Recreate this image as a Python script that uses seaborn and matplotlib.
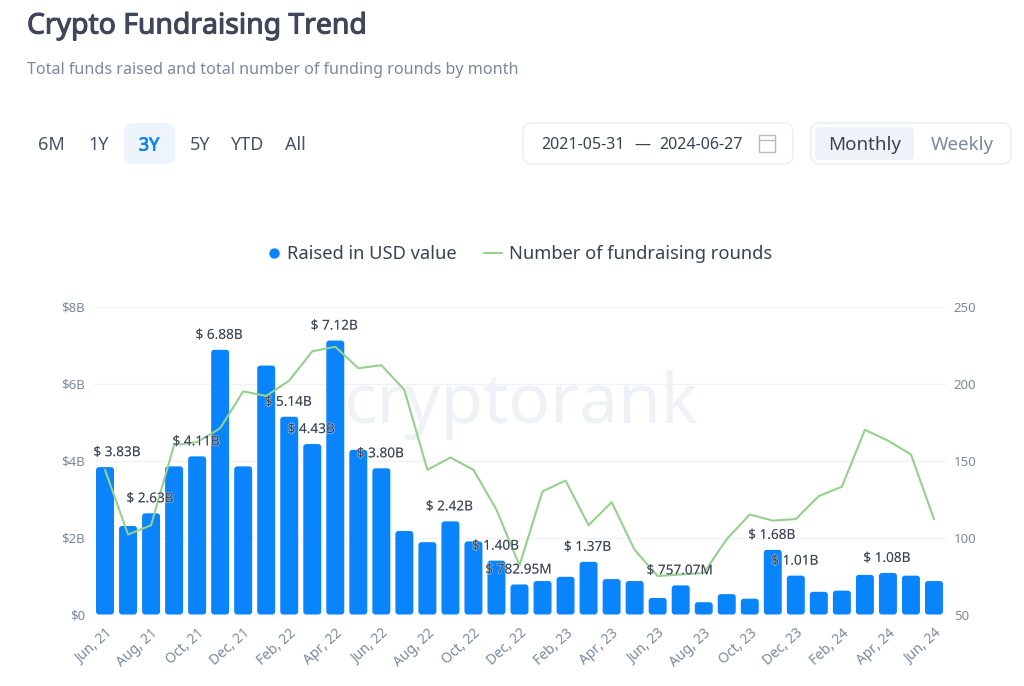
import matplotlib
matplotlib.use('Agg')
import matplotlib.pyplot as plt
import matplotlib.patheffects as pe
from matplotlib.patches import FancyBboxPatch, Rectangle
import pandas as pd
import seaborn as sns

months = ['Jun, 21', 'Jul, 21', 'Aug, 21', 'Sep, 21', 'Oct, 21', 'Nov, 21', 'Dec, 21',
          'Jan, 22', 'Feb, 22', 'Mar, 22', 'Apr, 22', 'May, 22', 'Jun, 22', 'Jul, 22',
          'Aug, 22', 'Sep, 22', 'Oct, 22', 'Nov, 22', 'Dec, 22', 'Jan, 23', 'Feb, 23',
          'Mar, 23', 'Apr, 23', 'May, 23', 'Jun, 23', 'Jul, 23', 'Aug, 23', 'Sep, 23',
          'Oct, 23', 'Nov, 23', 'Dec, 23', 'Jan, 24', 'Feb, 24', 'Mar, 24', 'Apr, 24',
          'May, 24', 'Jun, 24']
raised = [3.83, 2.30, 2.63, 3.85, 4.11, 6.88, 3.85, 6.47, 5.14, 4.43, 7.12, 4.28, 3.80,
          2.17, 1.88, 2.42, 1.90, 1.40, 0.78, 0.87, 0.98, 1.37, 0.92, 0.87, 0.43, 0.757,
          0.32, 0.53, 0.41, 1.68, 1.01, 0.59, 0.62, 1.03, 1.08, 1.01, 0.87]
rounds = [144, 102, 108, 160, 162, 171, 195, 192, 202, 221, 224, 210, 212, 196, 144, 152,
          144, 118, 82, 130, 137, 108, 123, 92, 75, 76, 77, 99, 115, 111, 112, 127, 133,
          170, 163, 154, 112]
bar_labels = {'Jun, 21': '$ 3.83B', 'Aug, 21': '$ 2.63B', 'Oct, 21': '$ 4.11B',
              'Nov, 21': '$ 6.88B', 'Feb, 22': '$ 5.14B', 'Mar, 22': '$ 4.43B',
              'Apr, 22': '$ 7.12B', 'Jun, 22': '$ 3.80B', 'Sep, 22': '$ 2.42B',
              'Nov, 22': '$ 1.40B', 'Dec, 22': '$ 782.95M', 'Mar, 23': '$ 1.37B',
              'Jul, 23': '$ 757.07M', 'Nov, 23': '$ 1.68B', 'Dec, 23': '$ 1.01B',
              'Apr, 24': '$ 1.08B'}
left_ticks = [0, 2, 4, 6, 8]
left_labels = ['$0', '$2B', '$4B', '$6B', '$8B']
right_ticks = [50, 100, 150, 200, 250]
range_buttons = ['6M', '1Y', '3Y', '5Y', 'YTD', 'All']

BLUE = '#0a84fb'
GREEN = '#93d18c'
DARK = '#3f4659'
GREY = '#7c899b'
TEXT = '#3b4252'

sns.set_theme(style='white')
plt.rcParams['font.family'] = ['Noto Sans', 'DejaVu Sans']

df = pd.DataFrame({'month': months, 'raised': raised, 'rounds': rounds})

W, H = 1024, 686
fig = plt.figure(figsize=(W / 100, H / 100), dpi=100, facecolor='white')

# page furniture drawn in pixel coordinates
bg = fig.add_axes([0, 0, 1, 1], zorder=-1)
bg.set_xlim(0, W)
bg.set_ylim(H, 0)
bg.axis('off')


def pill(x0, y0, x1, y1, face, edge='none', r=9):
    bg.add_patch(FancyBboxPatch((x0, y0), x1 - x0, y1 - y0, boxstyle=f'round,pad=0,rounding_size={r}',
                                facecolor=face, edgecolor=edge, linewidth=1))


# no heavier Noto Sans here, a thin stroke thickens the regular weight
bg.text(27, 26, 'Crypto Fundraising Trend', fontsize=20.4, color=DARK, va='center',
        path_effects=[pe.withStroke(linewidth=0.8, foreground=DARK)])
bg.text(27, 70, 'Total funds raised and total number of funding rounds by month', fontsize=11.6, color=GREY, va='center')

pill(124, 123, 175, 164, '#eef4fb')
for label, cx in zip(range_buttons, [51, 99, 149, 200, 247, 295]):
    is_active = label == '3Y'
    bg.text(cx, 145.5, label, fontsize=13, ha='center', va='center',
            color=BLUE if is_active else '#4a5263',
            path_effects=[pe.withStroke(linewidth=0.6, foreground=BLUE)] if is_active else None)

pill(523, 123, 793, 164, 'white', '#e9edf2')
bg.text(583, 145, '2021-05-31', fontsize=11.5, ha='center', va='center', color=TEXT)
bg.text(642, 145, '—', fontsize=11.5, ha='center', va='center', color=TEXT)
bg.text(701, 145, '2024-06-27', fontsize=11.5, ha='center', va='center', color=TEXT)
bg.add_patch(Rectangle((759, 135), 16, 17, facecolor='none', edgecolor='#b4bcc8', linewidth=1))
bg.plot([759, 775], [140, 140], color='#b4bcc8', lw=1)

pill(811, 123, 1011, 164, 'white', '#e9edf2')
pill(815, 127, 914, 160, '#eef3fa', r=5)
bg.text(865, 145.5, 'Monthly', fontsize=13.5, ha='center', va='center', color=TEXT)
bg.text(962, 145.5, 'Weekly', fontsize=13.5, ha='center', va='center', color=GREY)

# legend
bg.plot([274], [253], marker='o', markersize=6.5, color=BLUE, linestyle='none')
bg.text(287, 254, 'Raised in USD value', fontsize=13.2, va='center', color=TEXT)
bg.plot([484, 502], [253, 253], color=GREEN, linewidth=1.5)
bg.text(509, 254, 'Number of fundraising rounds', fontsize=13.2, va='center', color=TEXT)

bg.text(521, 405, 'cryptorank', fontsize=50, ha='center', va='center', color='#eef2f7')

# chart
left, right, top, bottom = 93.5, 945.5, 306.7, 614.5
ax = fig.add_axes([left / W, 1 - bottom / H, (right - left) / W, (bottom - top) / H])
ax.patch.set_alpha(0)

sns.barplot(data=df, x='month', y='raised', color=BLUE, width=0.78, saturation=1, ax=ax, zorder=3)
ax.set_xlim(-0.5, len(months) - 0.5)
ax.set_ylim(0, 8)

# swap the square bars for slightly rounded ones
aspect = (8 / (bottom - top)) / (len(months) / (right - left))
for bar in list(ax.patches):
    x, w, h = bar.get_x(), bar.get_width(), bar.get_height()
    bar.remove()
    ax.add_patch(FancyBboxPatch((x, 0), w, h, boxstyle='round,pad=0,rounding_size=0.13',
                                mutation_aspect=aspect, facecolor=BLUE, edgecolor='none', zorder=3))

ax.set_yticks(left_ticks, left_labels)
ax.set_xticks(range(0, len(months), 2), months[::2])
ax.set_xlabel('')
ax.set_ylabel('')
ax.grid(axis='y', color='#f0f2f6', linewidth=1, zorder=0)
ax.set_axisbelow(True)
ax.tick_params(axis='y', length=0, pad=6, labelsize=9.5, labelcolor=GREY)
ax.tick_params(axis='x', length=0, pad=8, labelsize=10, labelcolor=GREY)
for tick in ax.get_xticklabels():
    tick.set_rotation(42)
    tick.set_ha('right')
    tick.set_rotation_mode('anchor')
sns.despine(ax=ax, left=True, bottom=True)

ax2 = ax.twinx()
ax2.patch.set_alpha(0)
sns.lineplot(data=df, x='month', y='rounds', color=GREEN, linewidth=1.5, sort=False, ax=ax2)
ax2.set_ylim(50, 250)
ax2.set_yticks(right_ticks)
ax2.set_ylabel('')
ax2.grid(False)
ax2.tick_params(axis='y', length=0, pad=6, labelsize=9.5, labelcolor=GREY)
sns.despine(ax=ax2, left=True, bottom=True, right=True)

for i, month in enumerate(months):
    if month not in bar_labels:
        continue
    dx = 12 if i == 0 else -1
    ax2.annotate(bar_labels[month], xy=(i, raised[i]), xycoords=ax.transData,
                 xytext=(dx * 0.72, 14.5 * 0.72), textcoords='offset points',
                 ha='center', va='center', fontsize=9.8, color=TEXT,
                 path_effects=[pe.withStroke(linewidth=1, foreground=(1, 1, 1, 0.5))])

fig.savefig('out.png', dpi=100)
